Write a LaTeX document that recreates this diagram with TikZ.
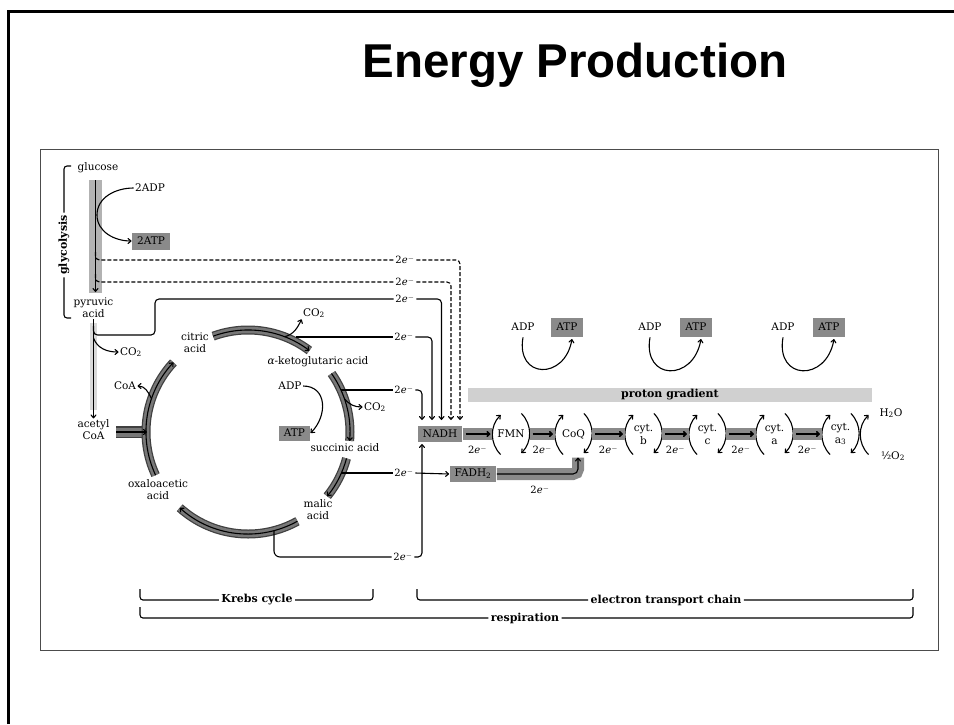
\documentclass[tikz,border=0pt]{standalone}
\usepackage{fontspec}
\setmainfont{DejaVu Serif}
\newfontfamily\titlefont{Liberation Sans}
\usetikzlibrary{arrows.meta, calc}
\definecolor{boxgray}{RGB}{138,138,138}
\definecolor{bandgray}{RGB}{120,120,120}
\definecolor{lightband}{RGB}{208,208,208}

\begin{document}
\begin{tikzpicture}[x=1pt, y=1pt, line width=1.1pt, >={To[length=4pt,width=6pt]},
    lbl/.style={font=\fontsize{10.5}{12}\selectfont, inner sep=1pt, align=center},
    elbl/.style={font=\fontsize{10}{11}\selectfont, inner sep=1.2pt},
    boldlbl/.style={font=\fontsize{11}{12}\selectfont\bfseries, inner sep=2pt},
    atpbox/.style={lbl, fill=boxgray, inner xsep=5pt, minimum height=17pt},
    carrier/.style={lbl, font=\fontsize{10.5}{13}\selectfont, minimum width=36pt, minimum height=40pt, inner sep=0pt},
    krebsedge/.style={line width=9pt, draw=black!75},
    krebsband/.style={line width=6.5pt, draw=bandgray},
    chainband/.style={line width=12pt, draw=boxgray},
    elecdash/.style={dash pattern=on 4pt off 2pt}]
    \useasboundingbox (0,0) rectangle (954,-724);

    % Moldura
    \draw[line width=3pt] (8.5,-724) -- (8.5,-11) -- (954,-11);
    \draw[line width=0.8pt, black!70] (40,-149) rectangle (938,-650);
    \node[font=\titlefont\fontsize{47.5}{50}\selectfont\bfseries] (title) at (575,-65) {Energy Production};

    % Glicolise
    \fill[gray!60] (89,-180) rectangle (102,-293);
    \fill[gray!30] (90,-323) rectangle (97,-410);
    \node[lbl] (glucose) at (98,-168) {glucose};
    \node[lbl] (adp1) at (150,-188) {2ADP};
    \node[atpbox] (atp1) at (151,-241) {2ATP};
    \node[lbl] (pyruvic) at (93.5,-308) {pyruvic\\acid};
    \node[lbl] (acetyl) at (93.5,-430) {acetyl\\CoA};
    \node[boldlbl, rotate=90] (glyc) at (64,-245) {glycolysis};
    \draw[rounded corners=3pt] (71,-166) -| (glyc.east);
    \draw[rounded corners=3pt] (glyc.west) |- (71,-318);
    \draw[->] (95.5,-180) -- (95.5,-292);
    \draw[->] (adp1.west) to[out=180, in=90] (97,-215) to[out=-90, in=180] (atp1.west);
    \draw[->] (pyruvic.south) -- (acetyl.north);
    \node[lbl] (co2a) at (131,-352) {CO\textsubscript{2}};
    \draw[->] (93.5,-338) to[out=-70, in=180] (co2a.west);

    % Ciclo de Krebs
    \coordinate (K) at (248,-432);
    \fill[black!75] (116,-426) rectangle (146,-438);
    \fill[bandgray] (116,-427.5) rectangle (146,-436.5);
    \foreach \a/\b in {205/137, 110/53, 35/-5, -15/-39, -61/-132}{
        \draw[krebsedge] ($(K)+(\a:102)$) arc[start angle=\a, end angle=\b, radius=102];
        \draw[krebsband] ($(K)+(\a:102)$) arc[start angle=\a, end angle=\b, radius=102];
        \draw[->] ($(K)+(\a:102)$) arc[start angle=\a, end angle=\b, radius=102];
    }
    \draw[->] (116,-432) -- (147,-432);
    \node[lbl] (citric) at (195,-343) {citric\\acid};
    \node[lbl] (akg) at (318,-362) {\textit{α}-ketoglutaric acid};
    \node[lbl] (succ) at (345,-448) {succinic acid};
    \node[lbl] (malic) at (318,-510) {malic\\acid};
    \node[lbl] (oxalo) at (158,-490) {oxaloacetic\\acid};
    \node[lbl] (coa) at (125,-386) {CoA};
    \node[lbl] (co2b) at (314,-313) {CO\textsubscript{2}};
    \node[lbl] (co2c) at (375,-407) {CO\textsubscript{2}};
    \node[lbl] (adp2) at (290,-386) {ADP};
    \node[atpbox, minimum height=15pt] (atp2) at (294.5,-433) {ATP};
    \draw[->] ($(K)+(161:102)$) to[out=115, in=0] (coa.east);
    \draw[->] ($(K)+(69:102)$) to[out=15, in=-115] (co2b.south west);
    \draw[->] ($(K)+(19:102)$) to[out=-50, in=180] (co2c.west);
    \draw[->] (adp2.east) to[out=0, in=45, looseness=1.3] (atp2.east);

    % Eletrons
    \node[elbl] (e1) at (405,-260) {2\textit{e}$^-$};
    \node[elbl] (e2) at (405,-282) {2\textit{e}$^-$};
    \node[elbl] (e3) at (405,-299) {2\textit{e}$^-$};
    \node[elbl] (e4) at (404,-337) {2\textit{e}$^-$};
    \node[elbl] (e5) at (404,-390) {2\textit{e}$^-$};
    \node[elbl] (e6) at (404,-473) {2\textit{e}$^-$};
    \node[elbl] (e7) at (403,-557) {2\textit{e}$^-$};
    \node[atpbox, minimum height=16pt] (nadh) at (440,-434) {NADH};
    \node[atpbox, minimum height=16pt] (fadh) at (473,-474) {FADH\textsubscript{2}};
    \draw[elecdash, rounded corners=4pt] (95.5,-252) |- (e1.west);
    \draw[elecdash, rounded corners=4pt, ->] (e1.east) -| (460,-420);
    \draw[elecdash, rounded corners=4pt] (95.5,-274) |- (e2.west);
    \draw[elecdash, rounded corners=4pt, ->] (e2.east) -| (451,-420);
    \draw[rounded corners=4pt] (93.5,-326) |- (155,-335) |- (e3.west);
    \draw[rounded corners=4pt, ->] (e3.east) -| (441.5,-420);
    \draw (296,-337) -- (e4.west);
    \draw[rounded corners=4pt, ->] (e4.east) -| (432,-420);
    \draw (341,-390) -- (e5.west);
    \draw[rounded corners=4pt, ->] (e5.east) -| (422,-420);
    \draw (341,-473) -- (e6.west);
    \draw[->] (e6.east) -- (fadh.west);
    \draw[rounded corners=6pt] (274,-531) |- (e7.west);
    \draw[rounded corners=4pt, ->] (e7.east) -| (422,-444);

    % Cadeia de transporte
    \fill[lightband] (468,-388) rectangle (872,-402);
    \node[boldlbl] (proton) at (670,-395) {proton gradient};
    \foreach \x/\t/\n in {511/FMN/fmn, 573.5/CoQ/coq, 643.5/{cyt.\\b}/cytb, 707.5/{cyt.\\c}/cytc, 774.5/{cyt.\\a}/cyta, 840.5/{cyt.\\a\textsubscript{3}}/cytaa}{
        \node[carrier] (\n) at (\x,-434) {\t};
        \draw[->] ([xshift=8.2pt]\n.south west) arc[start angle=225, end angle=135, radius=28];
        \draw[->] ([xshift=-8.2pt]\n.north east) arc[start angle=45, end angle=-45, radius=28];
    }
    \foreach \s/\t in {nadh/fmn, fmn/coq, coq/cytb, cytb/cytc, cytc/cyta, cyta/cytaa}{
        \draw[chainband] (\s.east) -- (\t.west);
        \draw[->, line width=1.5pt] ([xshift=3pt]\s.east) -- ([xshift=-2pt]\t.west);
        \path (\s.east) -- (\t.west) node[elbl, midway, yshift=-16pt] (el-\s) {2\textit{e}$^-$};
    }
    \draw[chainband, rounded corners=5pt] (fadh.east) -| ([xshift=4.5pt, yshift=-3pt]coq.south);
    \draw[->, rounded corners=5pt] (fadh.east) -| ([xshift=4.5pt, yshift=-3pt]coq.south);
    \node[elbl] (e8) at (540,-490) {2\textit{e}$^-$};
    \node[lbl] (water) at (891,-413) {H\textsubscript{2}O};
    \node[lbl] (oxygen) at (893,-456) {½O\textsubscript{2}};
    \draw[->] ([xshift=9.5pt]cytaa.south east) arc[start angle=225, end angle=135, radius=28];

    % ADP -> ATP
    \foreach \p/\q/\n in {523/567/1, 650/696/2, 783/829/3}{
        \node[lbl] (adpt\n) at (\p,-327) {ADP};
        \node[atpbox, minimum height=19pt] (atpt\n) at (\q,-327) {ATP};
        \draw[->] ([yshift=-5pt]adpt\n.south) to[out=-100, in=-100, looseness=2.2] ([xshift=5pt, yshift=-2pt]atpt\n.south);
    }

    % Chaves
    \node[boldlbl] (krebs) at (257,-600) {Krebs cycle};
    \node[boldlbl] (etc) at (666,-600) {electron transport chain};
    \node[boldlbl] (resp) at (525,-618) {respiration};
    \draw[rounded corners=3pt] (140,-589) |- (krebs.west);
    \draw[rounded corners=3pt] (krebs.east) -| (373,-589);
    \draw[rounded corners=3pt] (417,-589) |- (etc.west);
    \draw[rounded corners=3pt] (etc.east) -| (913,-589);
    \draw[rounded corners=3pt] (140,-607) |- (resp.west);
    \draw[rounded corners=3pt] (resp.east) -| (913,-607);
\end{tikzpicture}
\end{document}
